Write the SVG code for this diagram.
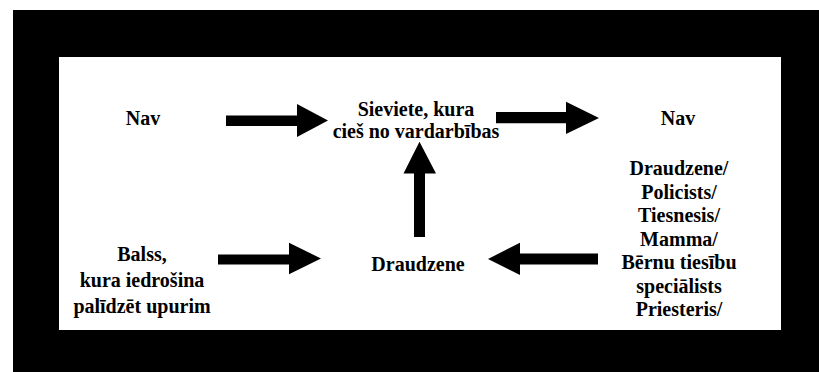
<svg xmlns="http://www.w3.org/2000/svg" width="819" height="372" viewBox="0 0 819 372">
<style>
text{font-family:"Liberation Serif","Times New Roman",serif;font-weight:bold;font-size:20px;fill:#000;text-anchor:middle}
.arr{fill:#000}
</style>
<rect x="0" y="0" width="819" height="372" fill="#fff"/>
<rect x="13" y="10" width="806" height="362" fill="#000"/>
<rect x="59" y="57" width="722" height="273" fill="#fff"/>
<g id="connectors">
<polygon class="arr" points="226,115.5 297,115.5 297,104 328,120.5 297,137 297,126 226,126"/>
<polygon class="arr" points="496,112 566,112 566,101.7 599,118 566,134 566,123.3 496,123.3"/>
<polygon class="arr" points="414,237 414,173.5 403.5,173.5 419.5,141.7 436,173.5 425,173.5 425,237"/>
<polygon class="arr" points="218,254.5 289,254.5 289,242.7 321,258.5 289,274.3 289,264.5 218,264.5"/>
<polygon class="arr" points="598,253.5 520,253.5 520,242.7 488,259 520,275 520,264.5 598,264.5"/>
</g>
<g id="nav-left"><text x="143" y="125">Nav</text></g>
<g id="sieviete"><text x="416" y="115.5">Sieviete, kura</text><text x="416" y="138">cieš no vardarbības</text></g>
<g id="nav-right"><text x="678" y="125">Nav</text></g>
<g id="balss"><text x="142" y="261">Balss,</text><text x="142" y="287">kura iedrošina</text><text x="142" y="313">palīdzēt upurim</text></g>
<g id="draudzene"><text x="418" y="271">Draudzene</text></g>
<g id="helpers"><text x="679" y="175">Draudzene/</text><text x="679" y="198.5">Policists/</text><text x="679" y="222">Tiesnesis/</text><text x="679" y="245.5">Mamma/</text><text x="679" y="269">Bērnu tiesību</text><text x="679" y="292.5">speciālists</text><text x="679" y="316">Priesteris/</text></g>
</svg>
